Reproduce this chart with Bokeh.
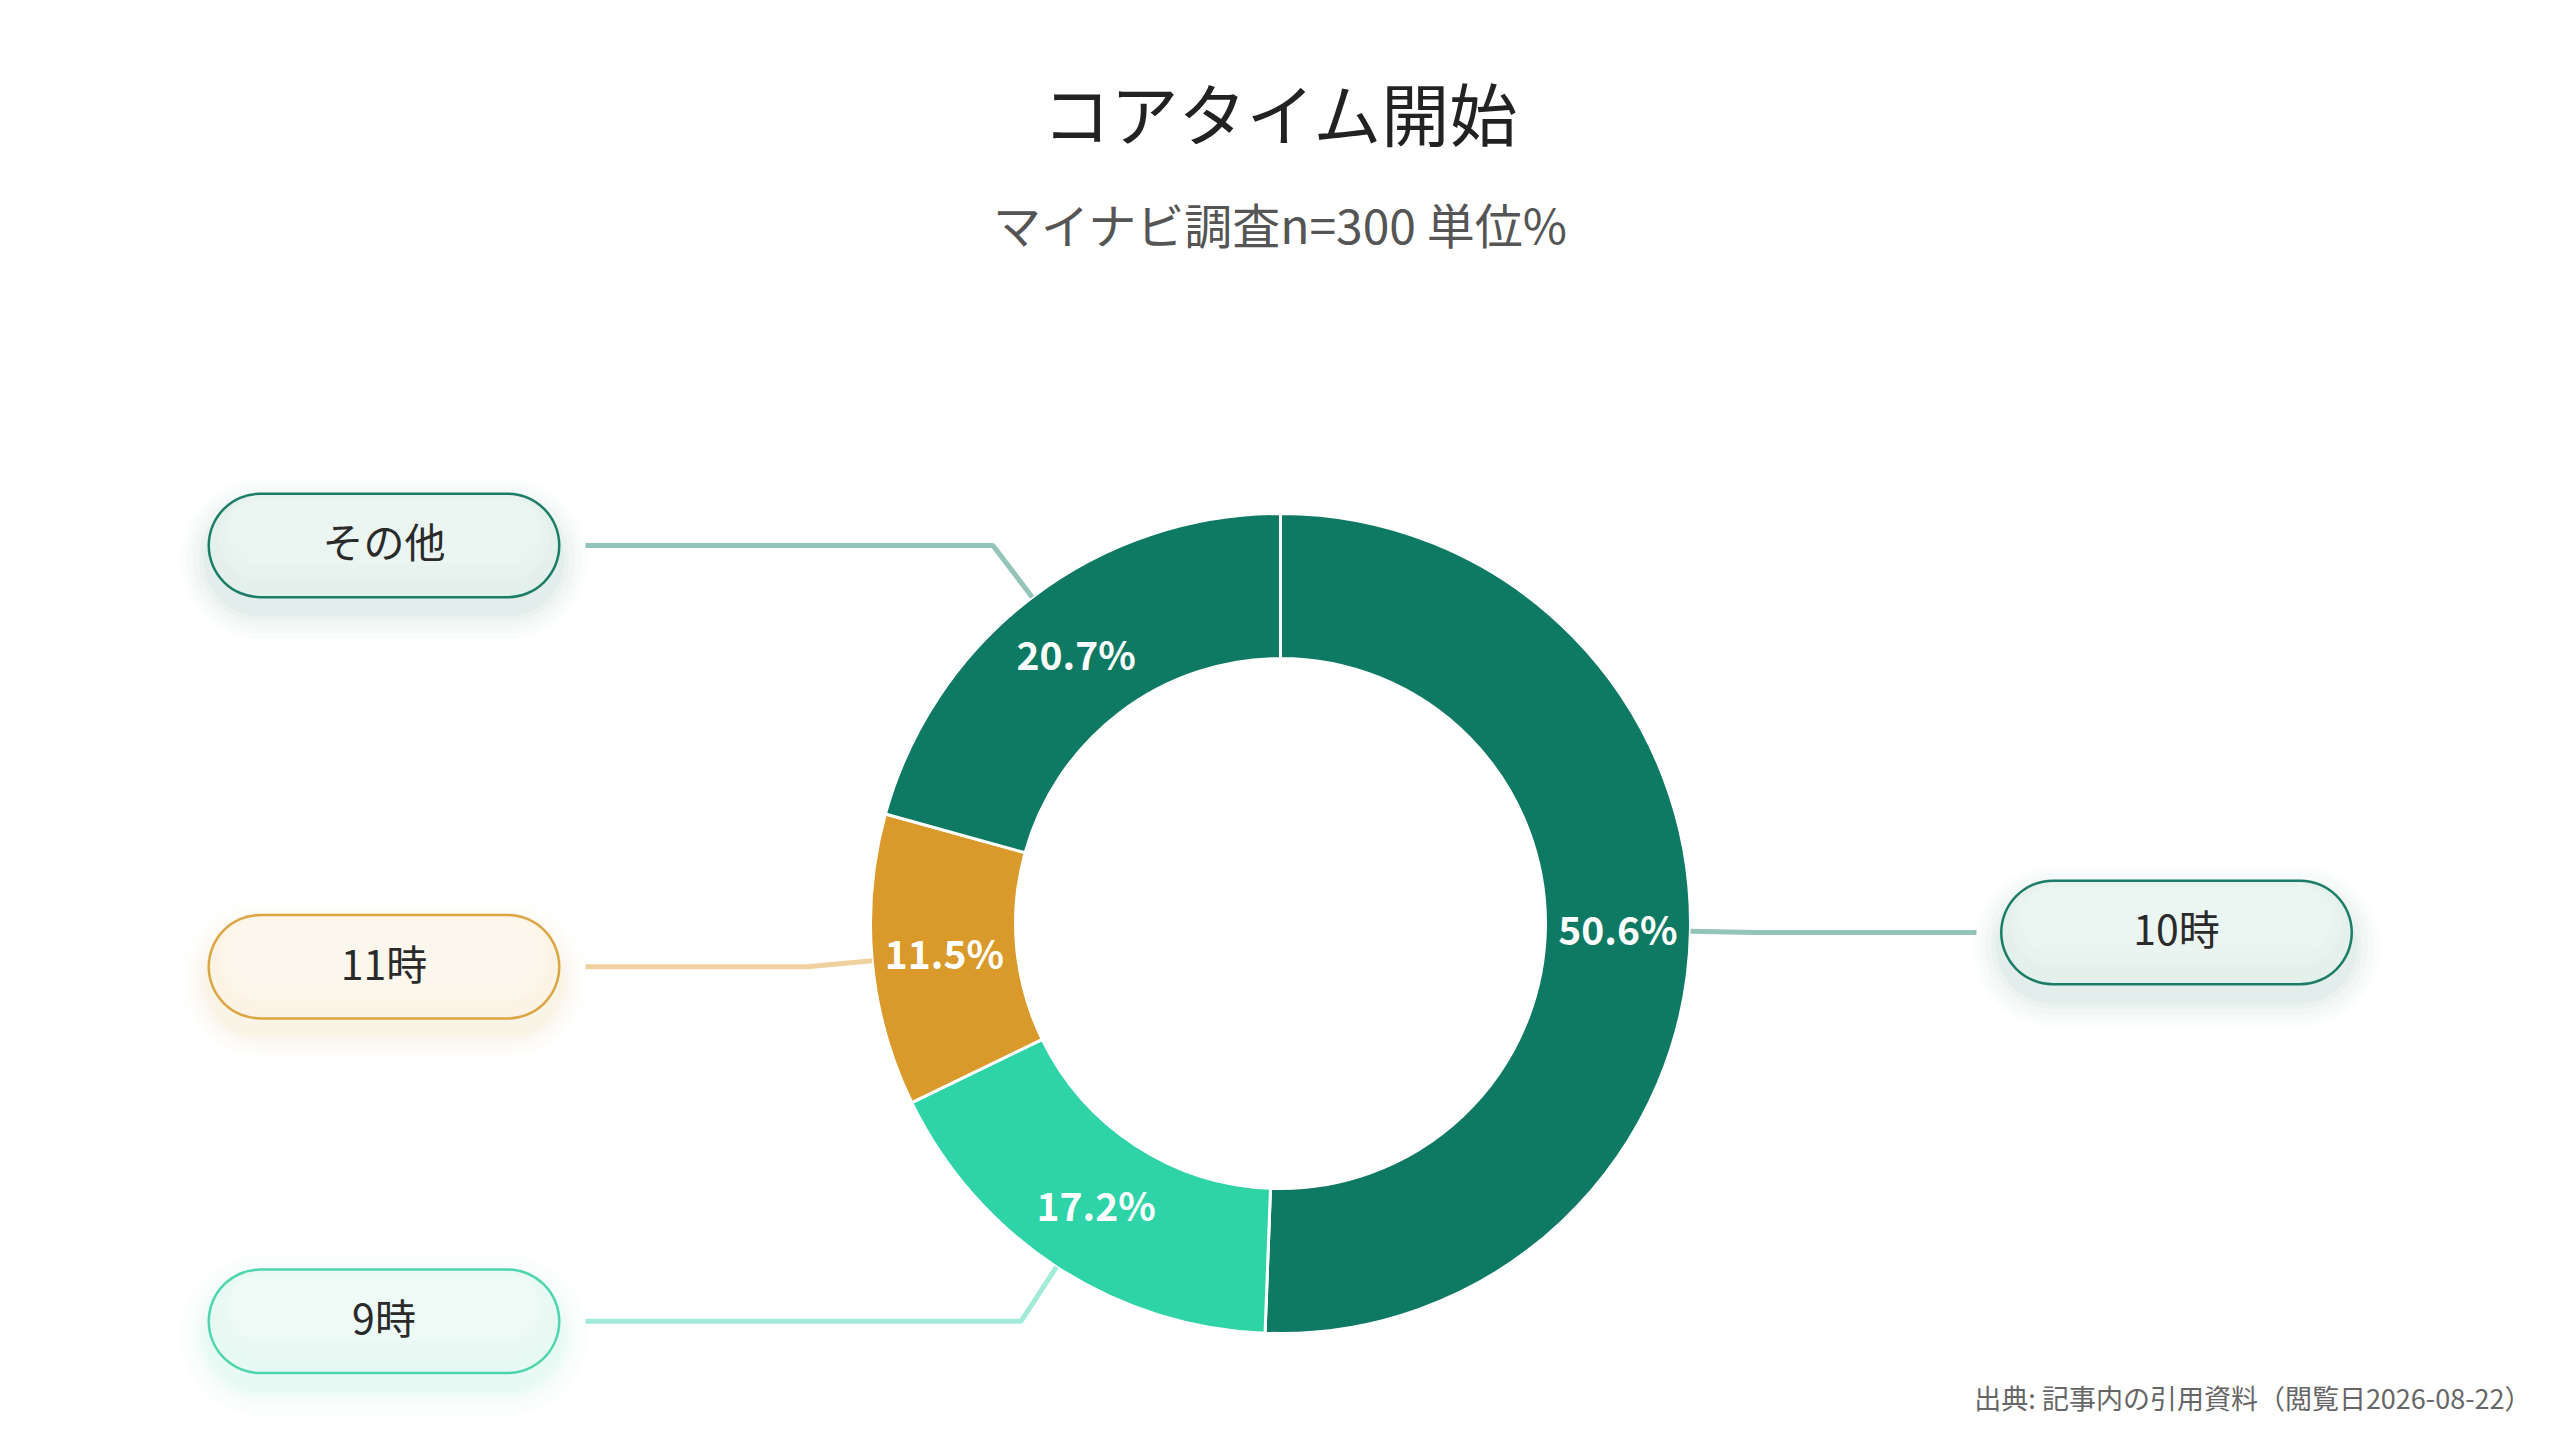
import numpy as np
from bokeh.plotting import figure
from bokeh.models import Range1d, ColumnDataSource
from bokeh.embed import file_html
from bokeh.resources import INLINE
from bokeh.core.properties import value

# ---- data ----
title = "コアタイム開始"
subtitle = "マイナビ調査n=300 単位%"
source_note = "出典: 記事内の引用資料（閲覧日2026-08-22）"
categories = ["10時", "9時", "11時", "その他"]
values = [50.6, 17.2, 11.5, 20.7]
colors = ["#0f7a64", "#2ed3a8", "#d9992b", "#0f7a64"]
box_fill = ["#e4f0ec", "#e8f8f2", "#fcf3e5", "#e4f0ec"]
box_top = ["#eef6f3", "#f0fbf7", "#fdf8ef", "#eef6f3"]
box_line = ["#1b7d68", "#4dd6ae", "#dca544", "#1b7d68"]
label_side = ["right", "left", "left", "left"]

FONT = "Noto Sans CJK JP"
W, H = 2544, 1424
cx, cy = 1280, 501
r_out, r_in = 410, 265
r_elbow = 475
left_end, right_end = 585, 1976
box_w, box_h = 353, 106
left_box_cx, right_box_cx = 383.5, 2176

p = figure(width=W, height=H, x_range=Range1d(0, W), y_range=Range1d(0, H),
           output_backend="svg", toolbar_location=None, min_border=0,
           x_axis_type=None, y_axis_type=None)
p.grid.visible = False
p.outline_line_color = None
p.background_fill_color = "white"
p.border_fill_color = "white"

vals = np.array(values, dtype=float)
frac = vals / vals.sum()
cum = np.cumsum(frac)
prev = np.concatenate([[0.0], cum[:-1]])
start = np.pi / 2 - 2 * np.pi * prev
end = np.pi / 2 - 2 * np.pi * cum
mid = np.pi / 2 - 2 * np.pi * (prev + frac / 2)

src = ColumnDataSource(dict(start=start, end=end, color=colors, cat=categories))
p.annular_wedge(x=cx, y=cy, inner_radius=r_in, outer_radius=r_out,
                start_angle="start", end_angle="end", direction="clock",
                fill_color="color", line_color="white", line_width=3, source=src)

# percentage labels
r_mid = (r_in + r_out) / 2
p.text(x=cx + r_mid * np.cos(mid), y=cy + r_mid * np.sin(mid) + 2,
       text=[f"{v:.1f}%" for v in values], text_color="white",
       text_font=value(FONT), text_font_style="bold", text_font_size="39px",
       text_align="center", text_baseline="middle")

# leader lines and label boxes
for i, cat in enumerate(categories):
    th = mid[i]
    x0, y0 = cx + r_out * np.cos(th), cy + r_out * np.sin(th)
    x1, y1 = cx + r_elbow * np.cos(th), cy + r_elbow * np.sin(th)
    x2 = right_end if label_side[i] == "right" else left_end
    p.line(x=[x0, x1, x2], y=[y0, y1, y1], line_color=colors[i], line_alpha=0.45,
           line_width=5)
    bcx = right_box_cx if label_side[i] == "right" else left_box_cx
    xs = [bcx - (box_w - box_h) / 2, bcx + (box_w - box_h) / 2]
    # soft shadow
    for extra, a in [(54, 0.015), (42, 0.02), (30, 0.025), (18, 0.03), (8, 0.035)]:
        p.line(x=xs, y=[y1 - 14, y1 - 14], line_width=box_h + extra, line_cap="round",
               line_color=box_line[i], line_alpha=a)
    p.line(x=xs, y=[y1, y1], line_width=box_h, line_cap="round", line_color=box_line[i])
    p.line(x=xs, y=[y1, y1], line_width=box_h - 5, line_cap="round", line_color=box_fill[i])
    for off, wd in [(8, box_h - 22), (14, box_h - 40), (20, box_h - 58)]:
        p.line(x=xs, y=[y1 + off, y1 + off], line_width=wd, line_cap="round",
               line_color=box_top[i], line_alpha=0.45)
    p.text(x=[bcx], y=[y1 + 5], text=[cat], text_color="#2a2a2a", text_font=value(FONT),
           text_font_size="41px", text_align="center", text_baseline="middle")

# titles
p.text(x=[W / 2 + 8], y=[1313], text=[title], text_color="#222222", text_font=value(FONT),
       text_font_size="68px", text_align="center", text_baseline="middle")
p.text(x=[W / 2 + 8], y=[1202], text=[subtitle], text_color="#555555", text_font=value(FONT),
       text_font_size="48px", text_align="center", text_baseline="middle")
p.text(x=[2531], y=[27], text=[source_note], text_color="#666666", text_font=value(FONT),
       text_font_size="27px", text_align="right", text_baseline="middle")

open("out.html", "w").write(file_html(p, INLINE))
